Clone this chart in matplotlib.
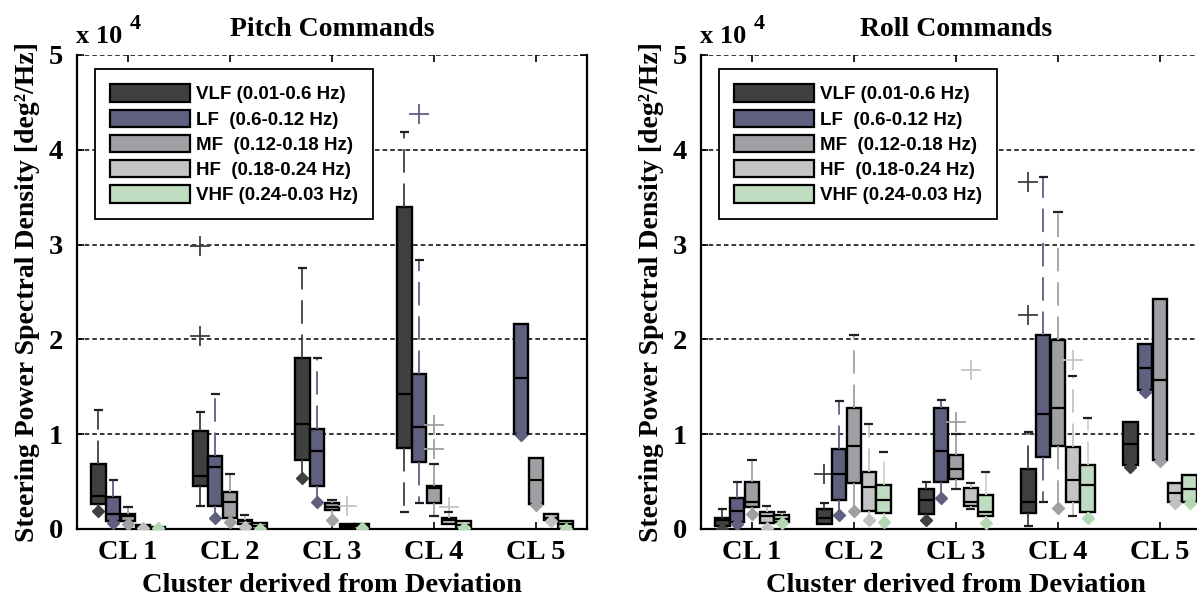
import matplotlib
matplotlib.use('Agg')
import matplotlib.pyplot as plt
from matplotlib.patches import Patch

# ---------------- data (values in units of 10^4 deg^2/Hz) ----------------
categories = ['CL 1', 'CL 2', 'CL 3', 'CL 4', 'CL 5']
bands = ['VLF (0.01-0.6 Hz)', 'LF  (0.6-0.12 Hz)', 'MF  (0.12-0.18 Hz)',
         'HF  (0.18-0.24 Hz)', 'VHF (0.24-0.03 Hz)']
band_colors = ['#404040', '#5f5f80', '#a0a0a4', '#c4c4c4', '#c0dcc0']
marker_colors = ['#404040', '#5f5f80', '#a0a0a4', '#c0c0c0', '#b4d8b4']

# Pitch commands: rows = bands (VLF, LF, MF, HF, VHF), columns = clusters CL1..CL5
pitch_q1 = [[0.26, 0.45, 0.73, 0.85, None],
            [0.08, 0.245, 0.45, 0.71, 1.00],
            [0.08, 0.12, 0.20, 0.27, 0.26],
            [0.01, 0.05, 0.01, 0.05, 0.09],
            [0.00, 0.00, 0.00, 0.00, 0.00]]
pitch_med = [[0.35, 0.56, 1.11, 1.42, None],
             [0.16, 0.65, 0.82, 1.08, 1.59],
             [0.14, 0.29, 0.23, 0.43, 0.52],
             [0.03, 0.08, 0.03, 0.09, 0.12],
             [0.01, 0.03, 0.03, 0.04, 0.05]]
pitch_q3 = [[0.69, 1.03, 1.80, 3.40, None],
            [0.34, 0.77, 1.05, 1.63, 2.16],
            [0.16, 0.39, 0.27, 0.45, 0.75],
            [0.04, 0.10, 0.05, 0.12, 0.16],
            [0.02, 0.06, 0.05, 0.08, 0.08]]
pitch_hi = [[1.26, 1.23, 2.75, 4.19, None],
            [0.52, 1.42, 1.80, 2.84, 2.16],
            [0.23, 0.58, 0.31, 0.69, 0.75],
            [0.04, 0.145, 0.05, 0.18, 0.16],
            [0.02, 0.06, 0.05, 0.08, 0.08]]
pitch_lo = [[None, 0.245, None, 0.18, None],
            [None, None, None, 0.27, None],
            [None, None, None, 0.14, None],
            [None, None, None, None, None],
            [None, None, None, None, None]]
pitch_dia = [[0.19, None, 0.54, None, None],
             [0.06, 0.12, 0.29, None, 0.99],
             [0.05, 0.07, 0.10, None, 0.25],
             [0.01, 0.02, None, None, 0.08],
             [0.01, 0.00, 0.01, 0.01, 0.00]]
pitch_out = [[[], [2.98, 2.04], [], [], []],
             [[], [], [], [4.38], []],
             [[], [], [], [1.10, 0.84], []],
             [[], [], [0.24], [0.23], []],
             [[], [], [], [], []]]

# Roll commands
roll_q1 = [[0.035, 0.05, 0.16, 0.165, 0.67],
           [0.07, 0.31, 0.50, 0.76, 1.47],
           [0.23, 0.49, 0.53, 0.88, 0.73],
           [0.06, 0.19, 0.245, 0.29, 0.29],
           [0.077, 0.165, 0.14, 0.18, 0.29]]
roll_med = [[0.09, 0.12, 0.31, 0.28, 0.90],
            [0.19, 0.58, 0.82, 1.21, 1.70],
            [0.28, 0.88, 0.63, 1.28, 1.57],
            [0.14, 0.44, 0.28, 0.52, 0.385],
            [0.11, 0.31, 0.18, 0.46, 0.42]]
roll_q3 = [[0.12, 0.21, 0.42, 0.63, 1.13],
           [0.33, 0.84, 1.28, 2.05, 1.95],
           [0.50, 1.28, 0.78, 1.99, 2.43],
           [0.175, 0.60, 0.43, 0.86, 0.48],
           [0.147, 0.46, 0.36, 0.67, 0.57]]
roll_hi = [[0.21, 0.27, 0.50, 1.02, 1.13],
           [0.50, 1.35, 1.36, 3.71, 1.95],
           [0.73, 2.05, 1.00, 3.34, 2.43],
           [0.245, 1.11, 0.48, 1.61, 0.48],
           [0.18, 0.81, 0.60, 1.17, 0.57]]
roll_lo = [[None, None, None, 0.035, None],
           [None, None, None, 0.29, None],
           [None, None, 0.42, None, None],
           [None, None, 0.21, 0.14, None],
           [None, None, None, None, None]]
roll_dia = [[0.00, None, 0.09, None, 0.65],
            [0.05, 0.15, 0.33, None, 1.45],
            [0.16, 0.19, None, 0.22, 0.72],
            [0.01, 0.10, None, None, 0.27],
            [0.06, 0.07, 0.06, 0.12, 0.27]]
roll_out = [[[], [0.58], [], [3.66, 2.26], []],
            [[], [], [], [], []],
            [[], [], [1.13], [], []],
            [[], [], [1.68], [1.78], []],
            [[], [], [], [], []]]

# ---------------- styling ----------------
offsets = [-0.29, -0.145, 0.0, 0.145, 0.29]
box_w = 0.14
cap_w = 0.09
serif = 'Liberation Serif'
sans = 'Liberation Sans'

W, H = 1197, 603
fig = plt.figure(figsize=(W / 100, H / 100), dpi=100)
axL = fig.add_axes([77 / W, 74 / H, 510 / W, 474 / H])
axR = fig.add_axes([701 / W, 74 / H, 510 / W, 474 / H])


def draw(ax, q1, med, q3, hi, lo, dia, out, title):
    ax.set_axisbelow(True)
    for s in range(len(bands)):
        col = band_colors[s]
        stats, pos = [], []
        for c in range(len(categories)):
            if q1[s][c] is None:
                continue
            low = q1[s][c]
            if dia[s][c] is not None:
                low = dia[s][c]
            elif lo[s][c] is not None:
                low = lo[s][c]
            stats.append(dict(med=med[s][c], q1=q1[s][c], q3=q3[s][c],
                              whislo=low, whishi=hi[s][c], fliers=out[s][c]))
            pos.append(c + 1 + offsets[s])
        ax.bxp(stats, positions=pos, widths=box_w, patch_artist=True,
               showcaps=False, manage_ticks=False,
               boxprops=dict(facecolor=col, edgecolor='black', linewidth=1.7),
               medianprops=dict(color='black', linewidth=1.6),
               whiskerprops=dict(color=col, linewidth=1.3, linestyle=(0, (13, 6))),
               flierprops=dict(marker='+', markersize=15, markeredgecolor=col,
                               markeredgewidth=1.3))
        for c in range(len(categories)):
            if q1[s][c] is None:
                continue
            p = c + 1 + offsets[s]
            if hi[s][c] > q3[s][c] + 1e-9:
                ax.hlines(hi[s][c], p - cap_w / 2, p + cap_w / 2,
                          color='#202020', linewidth=1.6, zorder=3)
            if lo[s][c] is not None:
                ax.hlines(lo[s][c], p - cap_w / 2, p + cap_w / 2,
                          color='#202020', linewidth=1.6, zorder=3)
            if dia[s][c] is not None:
                ax.plot([p], [dia[s][c]], marker='D', markersize=6,
                        color=marker_colors[s], linestyle='none', zorder=4)

    ax.set_xlim(0.5, 5.5)
    ax.set_ylim(0, 5)
    ax.set_xticks(range(1, len(categories) + 1))
    ax.set_xticklabels(categories)
    ax.set_yticks([0, 1, 2, 3, 4, 5])
    ax.yaxis.grid(True, color='black', linestyle=(0, (3, 2)), linewidth=1.1)
    ax.spines['top'].set_visible(False)
    for sp in ['left', 'right', 'bottom']:
        ax.spines[sp].set_linewidth(1.6)
    ax.tick_params(direction='in', top=True, right=True, length=5, width=1.2)
    ax.tick_params(axis='x', pad=8)
    ax.tick_params(axis='y', pad=10)
    for lab in ax.get_xticklabels() + ax.get_yticklabels():
        lab.set_fontfamily(serif)
        lab.set_fontweight('bold')
        lab.set_fontsize(20.5)
    ax.set_title(title, fontsize=20, fontweight='bold', family=serif, pad=14)
    ax.set_xlabel('Cluster derived from Deviation', fontsize=20.5,
                  fontweight='bold', family=serif, labelpad=6)
    ax.set_ylabel('Steering Power Spectral Density [deg²/Hz]', fontsize=20,
                  fontweight='bold', family=serif, labelpad=6)
    ax.annotate('x 10', xy=(0, 1), xycoords='axes fraction', xytext=(-1, 12),
                textcoords='offset pixels', ha='left', va='baseline',
                fontsize=19, fontweight='bold', family=serif)
    ax.annotate('4', xy=(0, 1), xycoords='axes fraction', xytext=(53, 26),
                textcoords='offset pixels', ha='left', va='baseline',
                fontsize=16, fontweight='bold', family=serif)
    handles = [Patch(facecolor=band_colors[i], edgecolor='black', linewidth=1.6)
               for i in range(len(bands))]
    leg = ax.legend(handles, bands, loc='upper left', bbox_to_anchor=(0.035, 0.97),
                    borderaxespad=0, frameon=True, fancybox=False, framealpha=1,
                    edgecolor='black', handlelength=4.3, handleheight=1.05,
                    labelspacing=0.33, handletextpad=0.3, borderpad=0.8,
                    prop=dict(family=sans, weight='bold', size=13.5))
    leg.get_frame().set_linewidth(1.3)
    leg.set_zorder(10)


draw(axL, pitch_q1, pitch_med, pitch_q3, pitch_hi, pitch_lo, pitch_dia, pitch_out,
     'Pitch Commands')
draw(axR, roll_q1, roll_med, roll_q3, roll_hi, roll_lo, roll_dia, roll_out,
     'Roll Commands')

fig.savefig('out.png', dpi=100)
